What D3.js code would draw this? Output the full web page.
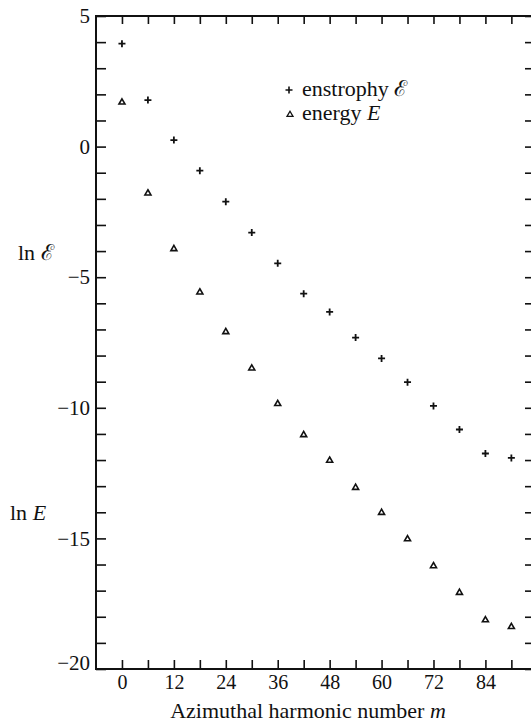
<!DOCTYPE html>
<html>
<head>
<meta charset="utf-8">
<script src="https://cdn.jsdelivr.net/npm/d3@7"></script>
<style>
  body { margin: 0; background: #fff; overflow: hidden; }
  svg { display: block; }
  text { font-family: "Liberation Serif", "DejaVu Serif", serif; fill: #111; }
</style>
</head>
<body>
<div id="chart"></div>
<script>
  const harmonics = [0, 6, 12, 18, 24, 30, 36, 42, 48, 54, 60, 66, 72, 78, 84, 90];
  const enstrophy = [3.94, 1.78, 0.25, -0.92, -2.11, -3.29, -4.47, -5.63, -6.33, -7.31, -8.11, -9.02, -9.93, -10.83, -11.75, -11.92];
  const energy = [1.72, -1.76, -3.89, -5.55, -7.07, -8.46, -9.82, -11.01, -11.99, -13.03, -13.99, -15.0, -16.03, -17.05, -18.1, -18.36];
  const xTickLabels = [0, 12, 24, 36, 48, 60, 72, 84];
  const xMinorTicks = [6, 18, 30, 42, 54, 66, 78, 90];
  const yTickLabels = [5, 0, -5, -10, -15, -20];

  const width = 531;
  const height = 724;
  const margin = { top: 16, right: 533, bottom: 669, left: 96 };

  const svg = d3.select('#chart')
    .append('svg')
    .attr('width', width)
    .attr('height', height);

  const x = d3.scaleLinear()
    .domain([-6, 95])
    .range([margin.left, margin.right]);
  const y = d3.scaleLinear()
    .domain([-20, 5])
    .range([margin.bottom, margin.top]);

  const allXTicks = xTickLabels.concat(xMinorTicks).sort(d3.ascending);
  const allYTicks = d3.range(-20, 6);

  function styleAxis(g, size) {
    g.attr('font-family', null).attr('font-size', null);
    g.select('.domain').remove();
    g.selectAll('.tick line').attr('stroke', '#111').attr('stroke-width', 1.6);
    g.selectAll('.tick text')
      .attr('font-family', '"Liberation Serif", "DejaVu Serif", serif')
      .attr('font-size', size || '22px')
      .attr('fill', '#111');
  }

  // bottom axis
  svg.append('g')
    .attr('transform', `translate(0,${margin.bottom})`)
    .call(d3.axisBottom(x).tickValues(allXTicks).tickSize(-9).tickPadding(6)
      .tickFormat(d => xTickLabels.includes(d) ? d : ''))
    .call(styleAxis, '20px');

  // top axis
  svg.append('g')
    .attr('transform', `translate(0,${margin.top})`)
    .call(d3.axisTop(x).tickValues(allXTicks).tickSize(-8).tickFormat(''))
    .call(styleAxis);

  // left axis
  const yAxisG = svg.append('g')
    .attr('transform', `translate(${margin.left},0)`)
    .call(d3.axisLeft(y).tickValues(allYTicks).tickSize(-10).tickPadding(6)
      .tickFormat(d => yTickLabels.includes(d) ? d3.format('d')(d) : ''))
    .call(styleAxis, '21px');
  // the corner label sits slightly above its tick
  yAxisG.selectAll('.tick text').filter(d => d === -20).attr('y', -6);

  // right axis (frame edge lies just outside the picture)
  svg.append('g')
    .attr('transform', `translate(${margin.right},0)`)
    .call(d3.axisRight(y).tickValues(allYTicks).tickSize(-8).tickFormat(''))
    .call(styleAxis);

  // frame: top, left, bottom
  svg.append('path')
    .attr('d', `M${margin.right},${margin.top}H${margin.left}V${margin.bottom}H${margin.right}`)
    .attr('fill', 'none')
    .attr('stroke', '#111')
    .attr('stroke-width', 2);

  const plusPath = 'M-3.5,0H3.5M0,-3.5V3.5';
  const triPath = 'M0,-2.8L3,2.4L-3,2.4Z';

  svg.append('g')
    .selectAll('path')
    .data(harmonics)
    .join('path')
      .attr('transform', (d, i) => `translate(${x(d)},${y(enstrophy[i])})`)
      .attr('d', plusPath)
      .attr('stroke', '#111')
      .attr('stroke-width', 1.8)
      .attr('fill', 'none');

  svg.append('g')
    .selectAll('path')
    .data(harmonics)
    .join('path')
      .attr('transform', (d, i) => `translate(${x(d)},${y(energy[i])})`)
      .attr('d', triPath)
      .attr('stroke', '#111')
      .attr('stroke-width', 1.6)
      .attr('fill', 'none');

  // legend
  const legend = svg.append('g');
  legend.append('path')
    .attr('transform', 'translate(289,90)')
    .attr('d', plusPath)
    .attr('stroke', '#111').attr('stroke-width', 1.6).attr('fill', 'none');
  legend.append('text')
    .attr('x', 302).attr('y', 96)
    .attr('font-size', '22px')
    .text('enstrophy \u2130');
  legend.append('path')
    .attr('transform', 'translate(290,114)')
    .attr('d', triPath)
    .attr('stroke', '#111').attr('stroke-width', 1.3).attr('fill', 'none');
  const en = legend.append('text')
    .attr('x', 302).attr('y', 120)
    .attr('font-size', '22px');
  en.append('tspan').text('energy ');
  en.append('tspan').attr('font-style', 'italic').text('E');

  // axis labels
  svg.append('text')
    .attr('x', 18).attr('y', 260)
    .attr('font-size', '22px')
    .text('ln \u2130');
  const le = svg.append('text')
    .attr('x', 10).attr('y', 520)
    .attr('font-size', '22px');
  le.append('tspan').text('ln ');
  le.append('tspan').attr('font-style', 'italic').text('E');

  const xt = svg.append('text')
    .attr('x', 308).attr('y', 718)
    .attr('text-anchor', 'middle')
    .attr('font-size', '22px');
  xt.append('tspan').text('Azimuthal harmonic number ');
  xt.append('tspan').attr('font-style', 'italic').text('m');
</script>
</body>
</html>
